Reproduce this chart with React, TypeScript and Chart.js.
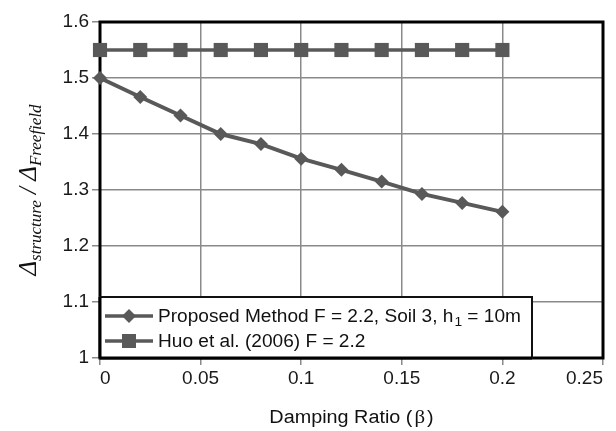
import { useEffect, useRef } from 'react';
import { Chart, registerables } from 'chart.js';

Chart.register(...registerables);

// ---- data ----
const dampingRatios = [0, 0.02, 0.04, 0.06, 0.08, 0.1, 0.12, 0.14, 0.16, 0.18, 0.2];
const proposedMethod = [1.5, 1.466, 1.433, 1.4, 1.382, 1.356, 1.336, 1.315, 1.293, 1.277, 1.261];
const huoEtAl = [1.55, 1.55, 1.55, 1.55, 1.55, 1.55, 1.55, 1.55, 1.55, 1.55, 1.55];

const xMin = 0;
const xMax = 0.25;
const xStep = 0.05;
const yMin = 1;
const yMax = 1.6;
const yStep = 0.1;

const legendProposed = ['Proposed Method F = 2.2, Soil 3, h', '1', ' = 10m'];
const legendHuo = 'Huo et al. (2006) F = 2.2';
const xTitleMain = 'Damping Ratio (';
const xTitleGreek = 'β';
const xTitleEnd = ')';
const yTitleParts = [
  { t: 'Δ', sub: false },
  { t: 'structure', sub: true },
  { t: ' / ', sub: false },
  { t: 'Δ', sub: false },
  { t: 'Freefield', sub: true },
];

// ---- styles ----
const SERIES = '#595959';
const GRID = '#8a8a8a';
const SANS = '"Liberation Sans", Arial, sans-serif';
const SERIF = '"Liberation Serif", "Times New Roman", serif';

const fmtTick = (v: any) => String(Math.round(Number(v) * 1000) / 1000);

function stretchText(ctx: CanvasRenderingContext2D, text: string, x: number, y: number, sx: number) {
  ctx.save();
  ctx.translate(x, y);
  ctx.scale(sx, 1);
  ctx.fillText(text, 0, 0);
  ctx.restore();
  return ctx.measureText(text).width * sx;
}

function diamond(ctx: CanvasRenderingContext2D, x: number, y: number, r: number) {
  ctx.beginPath();
  ctx.moveTo(x, y - r);
  ctx.lineTo(x + r, y);
  ctx.lineTo(x, y + r);
  ctx.lineTo(x - r, y);
  ctx.closePath();
  ctx.fill();
}

const decorPlugin = {
  id: 'decor',
  beforeDatasetsDraw(chart: any) {
    const { ctx, chartArea: a } = chart;
    ctx.save();
    ctx.strokeStyle = '#000';
    ctx.lineWidth = 3;
    ctx.strokeRect(a.left, a.top, a.right - a.left, a.bottom - a.top);
    ctx.restore();
  },
  afterDatasetsDraw(chart: any) {
    const { ctx, chartArea: a } = chart;
    ctx.save();
    // legend box
    const bx = a.left;
    const by = 297;
    const bw = 432;
    const bh = a.bottom - by;
    ctx.fillStyle = '#fff';
    ctx.fillRect(bx, by, bw, bh);
    ctx.strokeStyle = '#111';
    ctx.lineWidth = 2;
    ctx.strokeRect(bx, by, bw, bh);
    ctx.strokeStyle = '#000';
    ctx.lineWidth = 3;
    ctx.beginPath();
    ctx.moveTo(bx, a.bottom);
    ctx.lineTo(bx + bw, a.bottom);
    ctx.moveTo(bx, by);
    ctx.lineTo(bx, a.bottom);
    ctx.stroke();

    const rows = [316, 341];
    const lx1 = bx + 5;
    const lx2 = bx + 53;
    const mx = (lx1 + lx2) / 2;
    ctx.strokeStyle = SERIES;
    ctx.fillStyle = SERIES;
    ctx.lineWidth = 3.5;
    rows.forEach((ry) => {
      ctx.beginPath();
      ctx.moveTo(lx1, ry);
      ctx.lineTo(lx2, ry);
      ctx.stroke();
    });
    diamond(ctx, mx, rows[0], 7);
    ctx.fillRect(mx - 7, rows[1] - 7, 14, 14);

    ctx.fillStyle = '#111';
    ctx.textBaseline = 'alphabetic';
    const sx = 1.06;
    let tx = bx + 58;
    ctx.font = `18px ${SANS}`;
    tx += stretchText(ctx, legendProposed[0], tx, rows[0] + 6, sx);
    ctx.font = `13px ${SANS}`;
    tx += stretchText(ctx, legendProposed[1], tx + 1, rows[0] + 10, sx) + 1;
    ctx.font = `18px ${SANS}`;
    stretchText(ctx, legendProposed[2], tx, rows[0] + 6, sx);
    stretchText(ctx, legendHuo, bx + 58, rows[1] + 6, sx);
    ctx.restore();
  },
  afterDraw(chart: any) {
    const { ctx, chartArea: a } = chart;
    ctx.save();
    ctx.fillStyle = '#111';
    ctx.textBaseline = 'alphabetic';
    // x title
    const sx = 1.1;
    ctx.font = `18px ${SANS}`;
    const w1 = ctx.measureText(xTitleMain).width * sx;
    ctx.font = `19px ${SERIF}`;
    const w2 = ctx.measureText(xTitleGreek).width * sx;
    ctx.font = `18px ${SANS}`;
    const w3 = ctx.measureText(xTitleEnd).width * sx;
    const total = w1 + w2 + w3 + 4;
    let x = (a.left + a.right) / 2 - total / 2;
    const y = 423;
    stretchText(ctx, xTitleMain, x, y, sx);
    x += w1 + 2;
    ctx.font = `19px ${SERIF}`;
    stretchText(ctx, xTitleGreek, x, y, sx);
    x += w2 + 2;
    ctx.font = `18px ${SANS}`;
    stretchText(ctx, xTitleEnd, x, y, sx);

    // y title (rotated)
    ctx.translate(36, 190);
    ctx.rotate(-Math.PI / 2);
    const bigFont = `italic 25px ${SERIF}`;
    const subFont = `italic 17px ${SERIF}`;
    let tw = 0;
    yTitleParts.forEach((p) => {
      ctx.font = p.sub ? subFont : bigFont;
      tw += ctx.measureText(p.t).width;
    });
    let px = -tw / 2;
    yTitleParts.forEach((p) => {
      ctx.font = p.sub ? subFont : bigFont;
      ctx.fillText(p.t, px, p.sub ? 5 : 0);
      px += ctx.measureText(p.t).width;
    });
    ctx.restore();
  },
};

export default function App() {
  const ref = useRef<HTMLCanvasElement | null>(null);

  useEffect(() => {
    if (!ref.current) return;
    const toPts = (ys: number[]) => dampingRatios.map((x, i) => ({ x, y: ys[i] }));
    const chart = new Chart(ref.current, {
      type: 'line',
      data: {
        datasets: [
          {
            label: 'Proposed Method F = 2.2, Soil 3, h1 = 10m',
            data: toPts(proposedMethod),
            borderColor: SERIES,
            backgroundColor: SERIES,
            borderWidth: 4,
            pointStyle: 'rectRot',
            pointRadius: 7,
            pointBorderWidth: 0,
            clip: false,
          },
          {
            label: 'Huo et al. (2006) F = 2.2',
            data: toPts(huoEtAl),
            borderColor: SERIES,
            backgroundColor: SERIES,
            borderWidth: 3.5,
            pointStyle: 'rect',
            pointRadius: 10,
            pointBorderWidth: 0,
            clip: false,
          },
        ],
      },
      plugins: [decorPlugin],
      options: {
        animation: false,
        responsive: false,
        maintainAspectRatio: false,
        events: [],
        layout: { padding: { top: 22, right: 13, left: 0, bottom: 0 } },
        plugins: {
          legend: { display: false },
          tooltip: { enabled: false },
          title: { display: false },
        },
        scales: {
          x: {
            type: 'linear',
            min: xMin,
            max: xMax,
            ticks: {
              stepSize: xStep,
              color: '#1a1a1a',
              font: { family: SANS, size: 19 },
              padding: 2,
              maxRotation: 0,
              align: 'inner',
              callback: fmtTick,
            },
            grid: { color: GRID, lineWidth: 1.5, tickLength: 7, tickColor: GRID },
            border: { display: false },
            afterFit: (s: any) => {
              s.height = 73;
              s.paddingLeft = 0;
              s.paddingRight = 0;
            },
          },
          y: {
            type: 'linear',
            min: yMin,
            max: yMax,
            ticks: {
              stepSize: yStep,
              color: '#1a1a1a',
              font: { family: SANS, size: 19 },
              padding: 3,
              callback: fmtTick,
            },
            grid: { color: GRID, lineWidth: 1.5, tickLength: 8, tickColor: GRID },
            border: { display: false },
            afterFit: (s: any) => {
              s.width = 100;
              s.paddingTop = 0;
              s.paddingBottom = 0;
            },
          },
        },
      },
    } as any);
    return () => chart.destroy();
  }, []);

  return (
    <div style={{ position: 'fixed', left: 0, top: 0, width: 616, height: 431, background: '#fff' }}>
      <canvas ref={ref} width={616} height={431} style={{ width: 616, height: 431, display: 'block' }} />
    </div>
  );
}
